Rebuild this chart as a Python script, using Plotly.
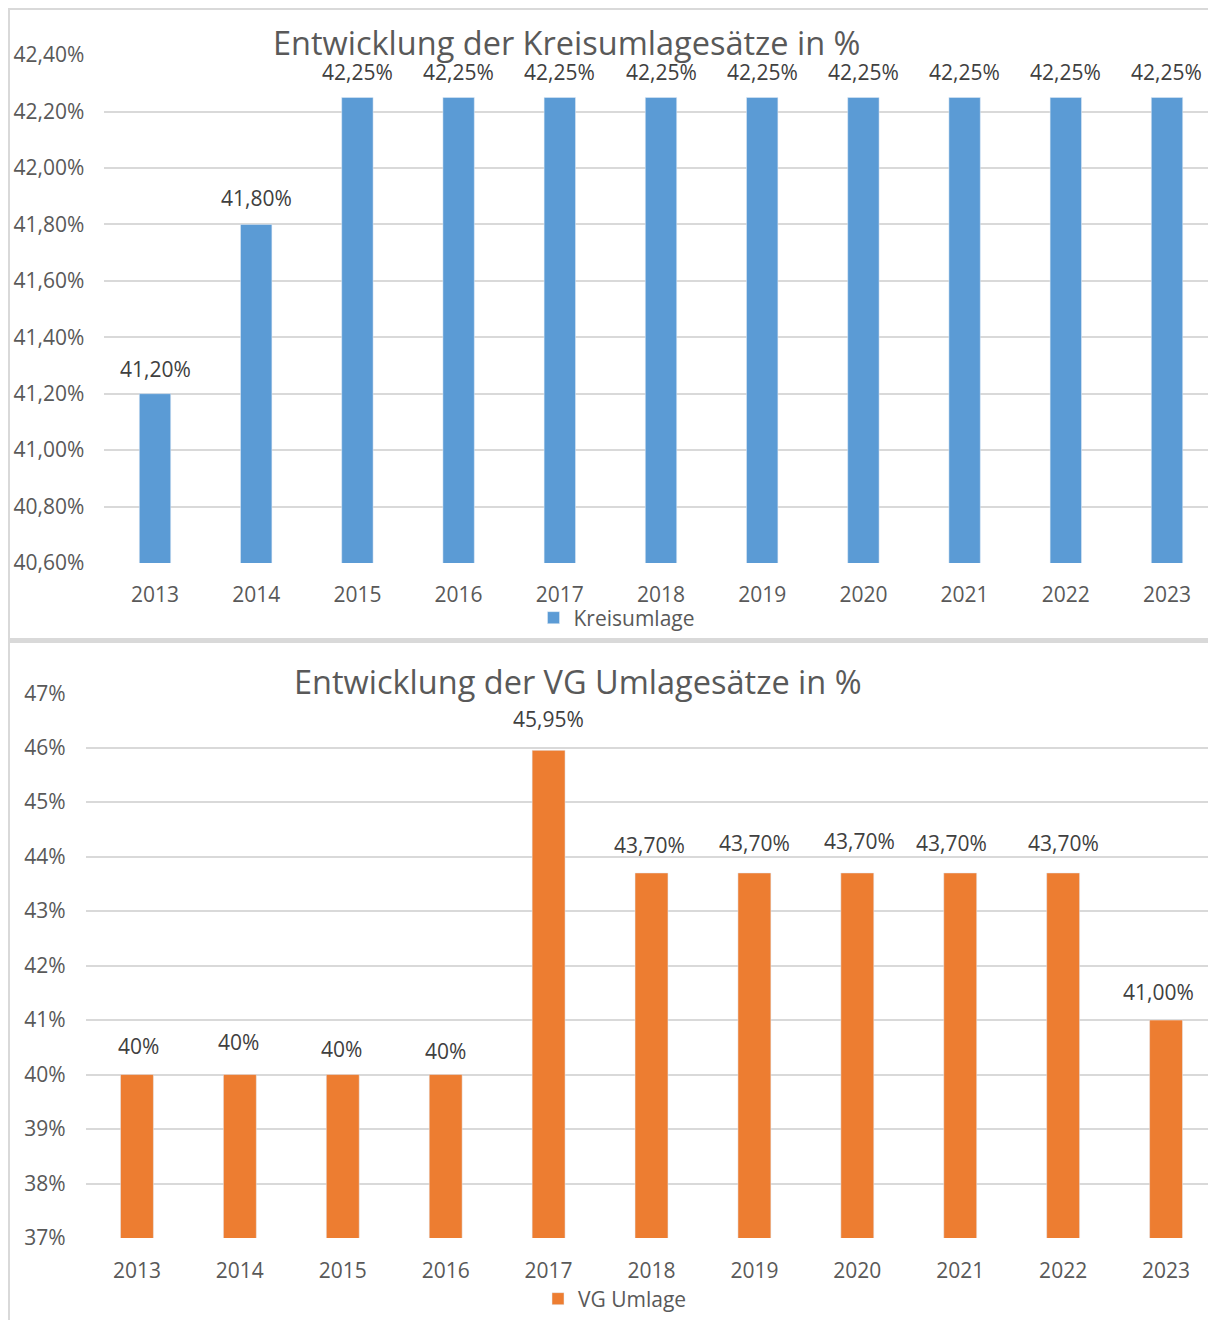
import plotly.graph_objects as go

years = [2013, 2014, 2015, 2016, 2017, 2018, 2019, 2020, 2021, 2022, 2023]
kreis_values = [41.20, 41.80, 42.25, 42.25, 42.25, 42.25, 42.25, 42.25, 42.25, 42.25, 42.25]
kreis_labels = ["41,20%", "41,80%", "42,25%", "42,25%", "42,25%", "42,25%", "42,25%", "42,25%", "42,25%", "42,25%", "42,25%"]
vg_values = [40.0, 40.0, 40.0, 40.0, 45.95, 43.70, 43.70, 43.70, 43.70, 43.70, 41.00]
vg_labels = ["40%", "40%", "40%", "40%", "45,95%", "43,70%", "43,70%", "43,70%", "43,70%", "43,70%", "41,00%"]
kreis_ticks = [40.6, 40.8, 41.0, 41.2, 41.4, 41.6, 41.8, 42.0, 42.2, 42.4]
vg_ticks = [37, 38, 39, 40, 41, 42, 43, 44, 45, 46, 47]

# label placement offsets (pixels) as placed in the original chart
kreis_label_dx = [0, 0, 0, 0, 0, 0, 0, 0, 0, 0, -1]
kreis_label_dy = [25, 26, 25, 25, 25, 25, 25, 25, 25, 25, 25]
vg_label_dx = [2, -1, -1, 0, 0, -2, 0, 2, -9, 0, -8]
vg_label_dy = [29, 33, 26, 24, 31, 28, 30, 32, 30, 30, 28]

W, H = 1216, 1320
OFF = 8  # page body margin compensation
FONT = "Open Sans"
TXT = "#595959"
LBL = "#404040"
GRID = "#D9D9D9"
FS = 21

def px(x):
    return (x - OFF) / W

def py(y):
    return 1 - (y - OFF) / H

fig = go.Figure()
fig.add_trace(go.Bar(
    x=years, y=kreis_values, name="Kreisumlage", marker_color="#5B9BD5",
    width=0.31, xaxis="x", yaxis="y", legend="legend",
))
fig.add_trace(go.Bar(
    x=years, y=vg_values, name="VG Umlage", marker_color="#ED7D31",
    width=0.32, xaxis="x2", yaxis="y2", legend="legend2",
))

annotations = []
for yr, v, t, dx, dy in zip(years, kreis_values, kreis_labels, kreis_label_dx, kreis_label_dy):
    annotations.append(dict(x=yr, y=v, text=t, xref="x", yref="y", showarrow=False,
                            yanchor="middle", yshift=dy, xshift=dx,
                            font=dict(size=FS, color=LBL, family=FONT)))
for yr, v, t, dx, dy in zip(years, vg_values, vg_labels, vg_label_dx, vg_label_dy):
    annotations.append(dict(x=yr, y=v, text=t, xref="x2", yref="y2", showarrow=False,
                            yanchor="middle", yshift=dy, xshift=dx,
                            font=dict(size=FS, color=LBL, family=FONT)))
annotations += [
    dict(text="Entwicklung der Kreisumlagesätze in %", x=px(566), y=py(43),
         xref="paper", yref="paper", showarrow=False, xanchor="center", yanchor="middle",
         font=dict(size=32.5, color=TXT, family=FONT)),
    dict(text="Entwicklung der VG Umlagesätze in %", x=px(578), y=py(681),
         xref="paper", yref="paper", showarrow=False, xanchor="center", yanchor="middle",
         font=dict(size=32.5, color=TXT, family=FONT)),
]

axfont = dict(size=FS, color=TXT, family=FONT)
xr = [years[0] - 0.5, years[-1] + 0.5]
fig.update_layout(
    width=W, height=H, margin=dict(l=0, r=0, t=0, b=0, autoexpand=False),
    paper_bgcolor="white", plot_bgcolor="white",
    separators=",.",
    font=dict(family=FONT, color=TXT),
    showlegend=True,
    xaxis=dict(type="linear", range=xr, domain=[px(104.4), px(1217.6)], anchor="y", showgrid=False,
               showline=False, zeroline=False, tickvals=years, ticktext=[str(y) for y in years],
               ticks="", tickfont=axfont, ticklabelstandoff=17, automargin=False),
    yaxis=dict(domain=[py(563), py(55)], anchor="x", range=[40.6, 42.4005],
               tickvals=kreis_ticks,
               ticktext=[f"{v:.2f}".replace(".", ",") + "%" for v in kreis_ticks],
               showgrid=True, gridcolor=GRID, gridwidth=2, zeroline=False,
               showline=False, tickfont=axfont, ticklabelstandoff=19, automargin=False),
    xaxis2=dict(type="linear", range=xr, domain=[px(85.5), px(1217.5)], anchor="y2", showgrid=False,
                showline=False, zeroline=False, tickvals=years, ticktext=[str(y) for y in years],
                ticks="", tickfont=axfont, ticklabelstandoff=18, automargin=False),
    yaxis2=dict(domain=[py(1238), py(693)], anchor="x2", range=[37, 47.003],
                tickvals=vg_ticks,
                ticktext=[f"{v:d}%" for v in vg_ticks],
                showgrid=True, gridcolor=GRID, gridwidth=2, zeroline=False,
                showline=False, tickfont=axfont, ticklabelstandoff=19, automargin=False),
    legend=dict(orientation="h", x=px(617), y=py(618), xanchor="center", yanchor="middle",
                font=dict(size=FS, color=TXT, family=FONT),
                bgcolor="rgba(0,0,0,0)"),
    legend2=dict(orientation="h", x=px(615), y=py(1299), xanchor="center", yanchor="middle",
                 font=dict(size=FS, color=TXT, family=FONT),
                 bgcolor="rgba(0,0,0,0)"),
    annotations=annotations,
    shapes=[
        dict(type="line", xref="paper", yref="paper", x0=0, x1=1, y0=py(8.5), y1=py(8.5),
             line=dict(color=GRID, width=3)),
        dict(type="line", xref="paper", yref="paper", x0=px(8.5), x1=px(8.5), y0=1, y1=0,
             line=dict(color=GRID, width=3)),
        dict(type="line", xref="paper", yref="paper", x0=0, x1=1, y0=py(640.5), y1=py(640.5),
             line=dict(color=GRID, width=5)),
    ],
)

fig.write_html("out.html")
